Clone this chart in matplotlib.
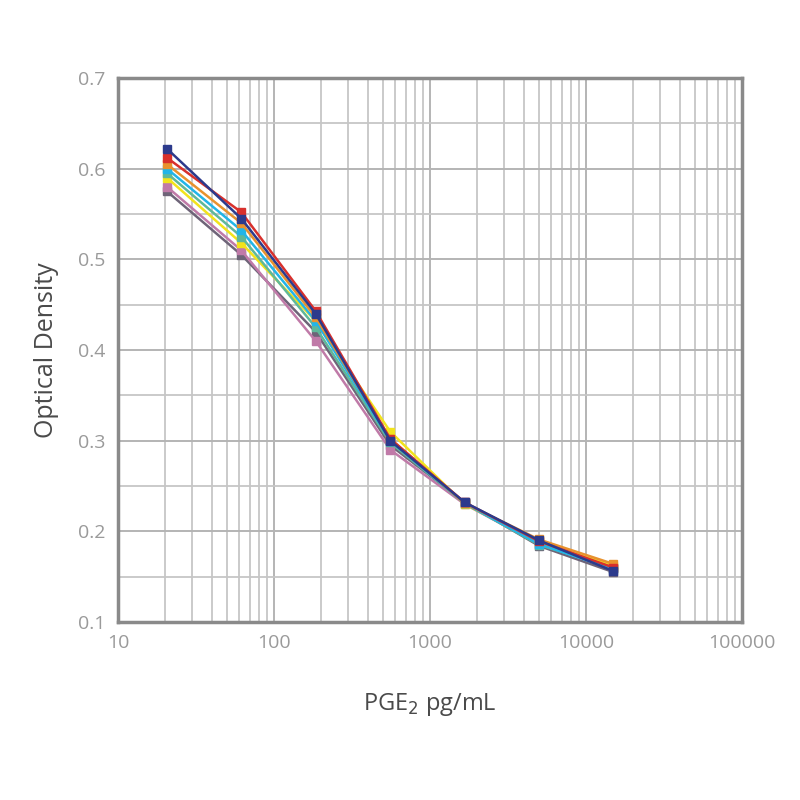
import matplotlib
matplotlib.use("Agg")
import matplotlib.pyplot as plt
from matplotlib.ticker import FixedLocator, NullFormatter, LogLocator

conc = [20.6, 61.7, 185, 556, 1667, 5000, 15000]

navy   = [0.622, 0.545, 0.440, 0.300, 0.232, 0.190, 0.156]
red    = [0.612, 0.552, 0.443, 0.302, 0.232, 0.189, 0.160]
orange = [0.605, 0.540, 0.436, 0.302, 0.231, 0.191, 0.164]
cyan   = [0.600, 0.532, 0.432, 0.300, 0.231, 0.186, 0.158]
green  = [0.595, 0.525, 0.425, 0.298, 0.231, 0.185, 0.160]
yellow = [0.590, 0.518, 0.432, 0.310, 0.230, 0.188, 0.162]
mauve  = [0.580, 0.510, 0.410, 0.290, 0.230, 0.186, 0.160]
gray   = [0.575, 0.505, 0.420, 0.295, 0.232, 0.184, 0.155]

series = [
    ("gray", gray, "#6e6478"),
    ("mauve", mauve, "#c07aa8"),
    ("yellow", yellow, "#f2e31c"),
    ("green", green, "#5fb89a"),
    ("cyan", cyan, "#22b5e8"),
    ("orange", orange, "#e8922e"),
    ("red", red, "#d8302c"),
    ("navy", navy, "#2c3a8c"),
]

plt.rcParams["font.family"] = ["Open Sans", "DejaVu Sans"]

fig = plt.figure(figsize=(8, 8), dpi=100)
ax = fig.add_axes([0.1475, 0.2225, 0.78, 0.68])
ax.set_xscale("log")
ax.set_xlim(10, 100000)
ax.set_ylim(0.1, 0.7)

ax.xaxis.set_minor_locator(LogLocator(base=10, subs=range(2, 10), numticks=20))
ax.xaxis.set_minor_formatter(NullFormatter())
ax.set_xticks([10, 100, 1000, 10000, 100000])
ax.set_xticklabels(["10", "100", "1000", "10000", "100000"])
ax.set_yticks([0.1, 0.2, 0.3, 0.4, 0.5, 0.6, 0.7])
ax.set_yticklabels(["0.1", "0.2", "0.3", "0.4", "0.5", "0.6", "0.7"])
ax.yaxis.set_minor_locator(FixedLocator([0.15, 0.25, 0.35, 0.45, 0.55, 0.65]))

ax.grid(True, which="major", color="#b4b4b4", linewidth=1.4)
ax.grid(True, which="minor", color="#c6c6c6", linewidth=1.3)
ax.set_axisbelow(True)

for name, vals, col in series:
    ax.plot(conc, vals, color=col, linewidth=1.8, marker="s", markersize=6, zorder=3)

for sp in ax.spines.values():
    sp.set_color("#8a8a8a")
    sp.set_linewidth(2.5)

ax.tick_params(which="both", length=0, colors="#9a9a9a", labelsize=14, pad=9)
ax.set_ylabel("Optical Density", fontsize=18, color="#4a4a4a", labelpad=14)
ax.set_xlabel("PGE$_2$ pg/mL", fontsize=17, color="#4a4a4a", labelpad=28)

fig.savefig("out.png", dpi=100, facecolor="white")
